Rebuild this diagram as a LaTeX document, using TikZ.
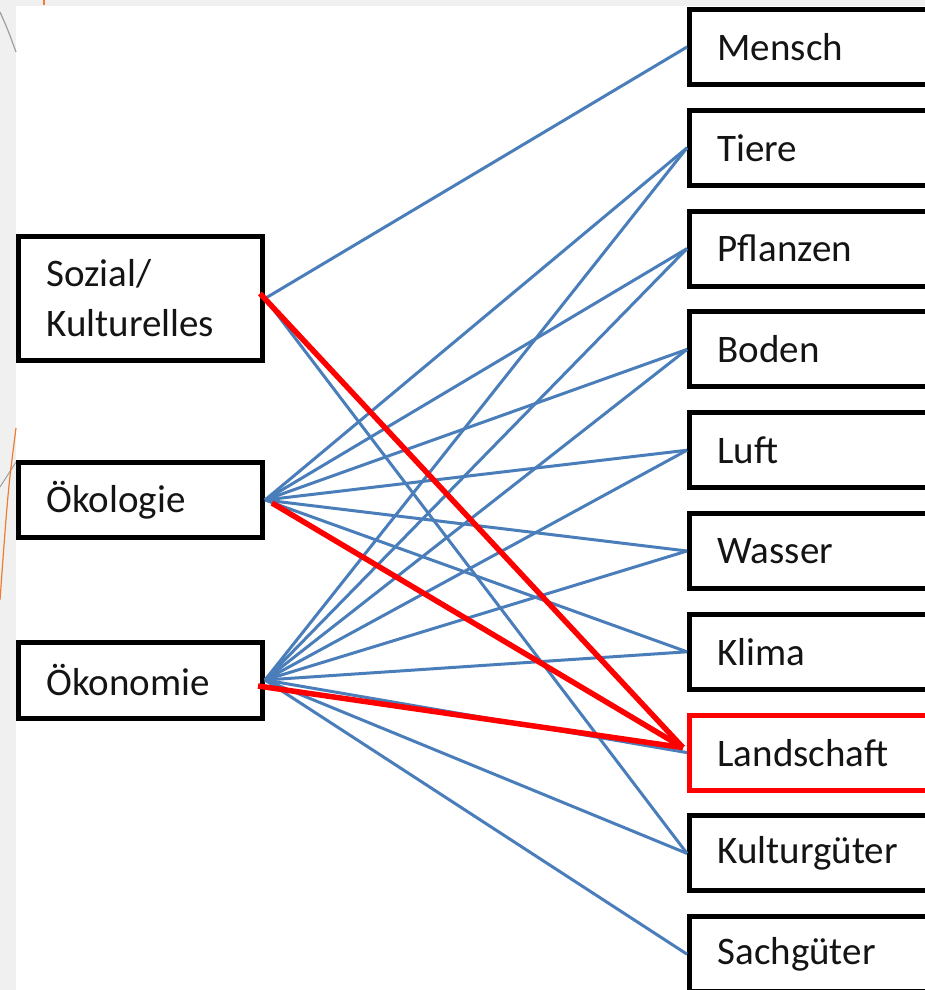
\documentclass[tikz,border=0pt]{standalone}
\usepackage{fontspec}
\setmainfont{Carlito}
\definecolor{lnblue}{RGB}{74,126,187}
\definecolor{bgray}{RGB}{240,240,240}
\definecolor{deco}{RGB}{237,125,49}
\begin{document}
\begin{tikzpicture}[x=1pt,y=-1pt,
  box/.style={draw=black,line width=5pt,inner ysep=0pt,inner xsep=28pt,align=left,
              font=\fontsize{39}{50}\selectfont,text=black!92},
  rbox/.style={box,text width=244pt,minimum height=75pt},
  lbox/.style={box,text width=188pt},
  conn/.style={lnblue,line width=3pt},
  hot/.style={red,line width=5.5pt}]
\useasboundingbox (0,0) rectangle (925,990);
\clip (0,0) rectangle (925,990);
\fill[bgray] (0,0) rectangle (925,990);
\fill[white] (16,6) rectangle (925,990);
% slide decorations
\draw[gray!75,line width=1.2pt] (0,12) .. controls (8,30) .. (16,52);
\draw[gray!75,line width=1pt] (0,487) -- (16,462);
\draw[deco,line width=1.2pt] (16,428) .. controls (8,490) .. (0,600);
\draw[deco,line width=1.5pt] (44,0) -- (44,5);
% left boxes
\node[lbox,minimum height=124pt] (S) at (140.5,298.5) {Sozial/\\Kulturelles};
\node[lbox,minimum height=75pt] (E) at (140.5,500) {Ökologie};
\node[lbox,minimum height=76pt] (O) at (140.5,680) {Ökonomie};
% right boxes
\node[rbox] (Me) at (839.5,47) {Mensch};
\node[rbox] (Ti) at (839.5,147.8) {Tiere};
\node[rbox] (Pf) at (839.5,248.6) {Pflanzen};
\node[rbox] (Bo) at (839.5,349.4) {Boden};
\node[rbox] (Lu) at (839.5,450.2) {Luft};
\node[rbox] (Wa) at (839.5,551) {Wasser};
\node[rbox] (Kl) at (839.5,651.8) {Klima};
\node[rbox,draw=red] (La) at (839.5,752.6) {Landschaft};
\node[rbox] (Ku) at (839.5,853.4) {Kulturgüter};
\node[rbox] (Sa) at (839.5,954.2) {Sachgüter};
% blue connectors
\draw[conn] (S.east) -- (Me.west);
\draw[conn] (S.east) -- (Ku.west);
\foreach \t in {Ti,Pf,Bo,Lu,Wa,Kl}{\draw[conn] (E.east) -- (\t.west);}
\foreach \t in {Ti,Pf,Bo,Lu,Wa,Kl,La,Ku,Sa}{\draw[conn] (O.east) -- (\t.west);}
% red connectors
\coordinate (Lend) at ([shift={(-4,-5)}]La.west);
\draw[hot] ([shift={(-5,-5)}]S.east) -- (Lend);
\draw[hot] ([shift={(7,3)}]E.east) -- (Lend);
\draw[hot] ([shift={(-7,6)}]O.east) -- (Lend);
\end{tikzpicture}
\end{document}
